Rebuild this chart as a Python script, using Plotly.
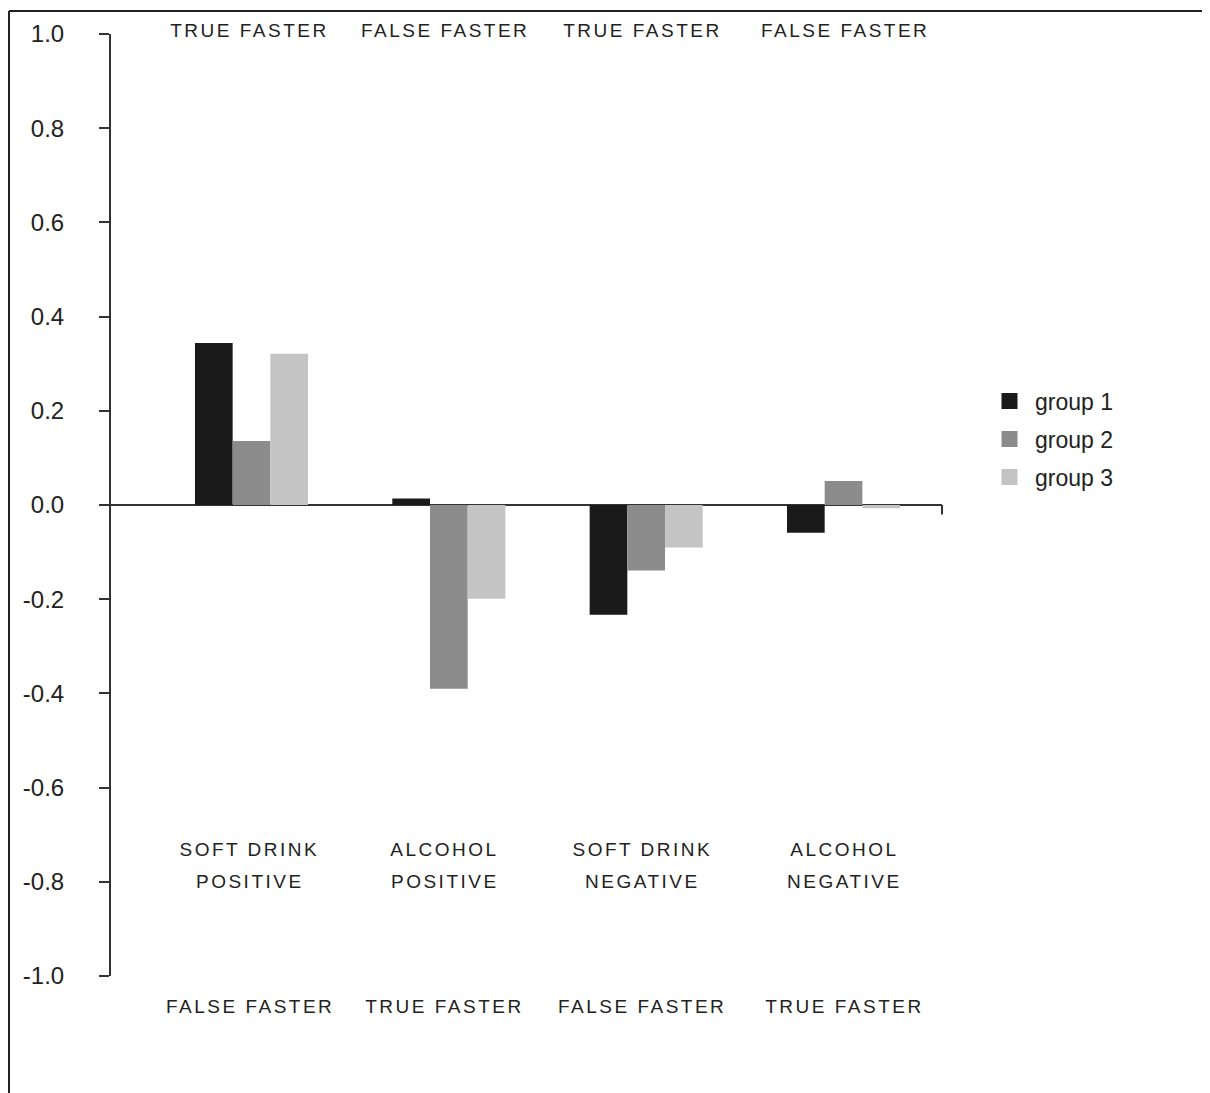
import plotly.graph_objects as go

categories = [0, 1, 2, 3]
cat_line1 = ["SOFT DRINK", "ALCOHOL", "SOFT DRINK", "ALCOHOL"]
cat_line2 = ["POSITIVE", "POSITIVE", "NEGATIVE", "NEGATIVE"]
top_labels = ["TRUE FASTER", "FALSE FASTER", "TRUE FASTER", "FALSE FASTER"]
bottom_labels = ["FALSE FASTER", "TRUE FASTER", "FALSE FASTER", "TRUE FASTER"]

group1 = [0.344, 0.014, -0.233, -0.059]
group2 = [0.136, -0.390, -0.139, 0.051]
group3 = [0.321, -0.199, -0.090, -0.007]

series_names = ["group 1", "group 2", "group 3"]
colors = ["#1a1a1a", "#8c8c8c", "#c4c4c4"]

tick_vals = [-1.0, -0.8, -0.6, -0.4, -0.2, 0.0, 0.2, 0.4, 0.6, 0.8, 1.0]
tick_text = ["-1.0", "-0.8", "-0.6", "-0.4", "-0.2", "0.0", "0.2", "0.4", "0.6", "0.8", "1.0"]

FONT = "Liberation Sans, Arial, sans-serif"

fig = go.Figure()
for name, vals, col in zip(series_names, [group1, group2, group3], colors):
    fig.add_trace(go.Bar(x=categories, y=vals, name=name, showlegend=False,
                         marker=dict(color=col, line=dict(width=0))))
# legend entries (square swatches)
for name, col in zip(series_names, colors):
    fig.add_trace(go.Scatter(x=[None], y=[None], mode="markers", name=name, legendgroup=name,
                             marker=dict(symbol="square", size=16, color=col)))

label_font = dict(family=FONT, size=19, color="#222")
label_shift = [-2, -4, -4, 1]
annotations = []
for i in range(len(categories)):
    for txt, ypix in [(top_labels[i], 28), (cat_line1[i], 849), (cat_line2[i], 881), (bottom_labels[i], 1007)]:
        annotations.append(dict(x=categories[i], y=(976 - ypix) / 944, xref="x", yref="paper", text=txt,
                                showarrow=False, xshift=label_shift[i], yanchor="middle", font=label_font))

PLOT_BOTTOM = 968  # figure px of the plot-area bottom
shapes = [
    # right-end tick of the x axis
    dict(type="line", xref="paper", yref="y", x0=1, x1=1, y0=0, y1=-0.02,
         line=dict(color="#333", width=2)),
    # frame lines
    dict(type="line", xref="paper", yref="paper", x0=(1 - 103) / 831, x1=(1200 - 103) / 831,
         y0=(PLOT_BOTTOM - 1) / 944, y1=(PLOT_BOTTOM - 1) / 944, line=dict(color="#222", width=2)),
    dict(type="line", xref="paper", yref="paper", x0=(1 - 103) / 831, x1=(1 - 103) / 831,
         y0=(PLOT_BOTTOM - 1) / 944, y1=(PLOT_BOTTOM - 1090) / 944, line=dict(color="#222", width=2)),
    dict(type="line", xref="paper", yref="paper", x0=(1200 - 103) / 831, x1=(1200 - 103) / 831,
         y0=(PLOT_BOTTOM - 1) / 944, y1=(PLOT_BOTTOM - 1090) / 944, line=dict(color="#e6e6e6", width=1)),
]

fig.update_layout(
    width=1202, height=1085,
    margin=dict(l=103, r=268, t=24, b=117),
    paper_bgcolor="white", plot_bgcolor="white",
    barmode="group", bargap=0.427, bargroupgap=0,
    showlegend=True,
    legend=dict(x=(984 - 111) / 831, y=(976 - 438) / 944, xanchor="left", yanchor="middle",
                font=dict(family=FONT, size=23, color="#222"), tracegroupgap=5,
                itemsizing="trace", itemwidth=41, bgcolor="rgba(0,0,0,0)"),
    annotations=annotations,
    shapes=shapes,
    font=dict(family=FONT, color="#222"),
)
fig.update_xaxes(range=[-0.712, 3.499], visible=False, showgrid=False, zeroline=False)
fig.update_yaxes(range=[-1, 1], tickvals=tick_vals, ticktext=tick_text, showgrid=False,
                 showline=True, linecolor="#333", linewidth=2, ticks="outside", ticklen=10,
                 tickwidth=2, tickcolor="#333", ticklabelstandoff=30,
                 tickfont=dict(family=FONT, size=24, color="#222"),
                 zeroline=True, zerolinecolor="#333", zerolinewidth=2)

post = ("var gd=document.getElementById('{plot_id}');"
        "gd.querySelectorAll('.annotation-text').forEach(function(e){e.style.letterSpacing='2.5px';});")
fig.write_html("out.html", post_script=post)
